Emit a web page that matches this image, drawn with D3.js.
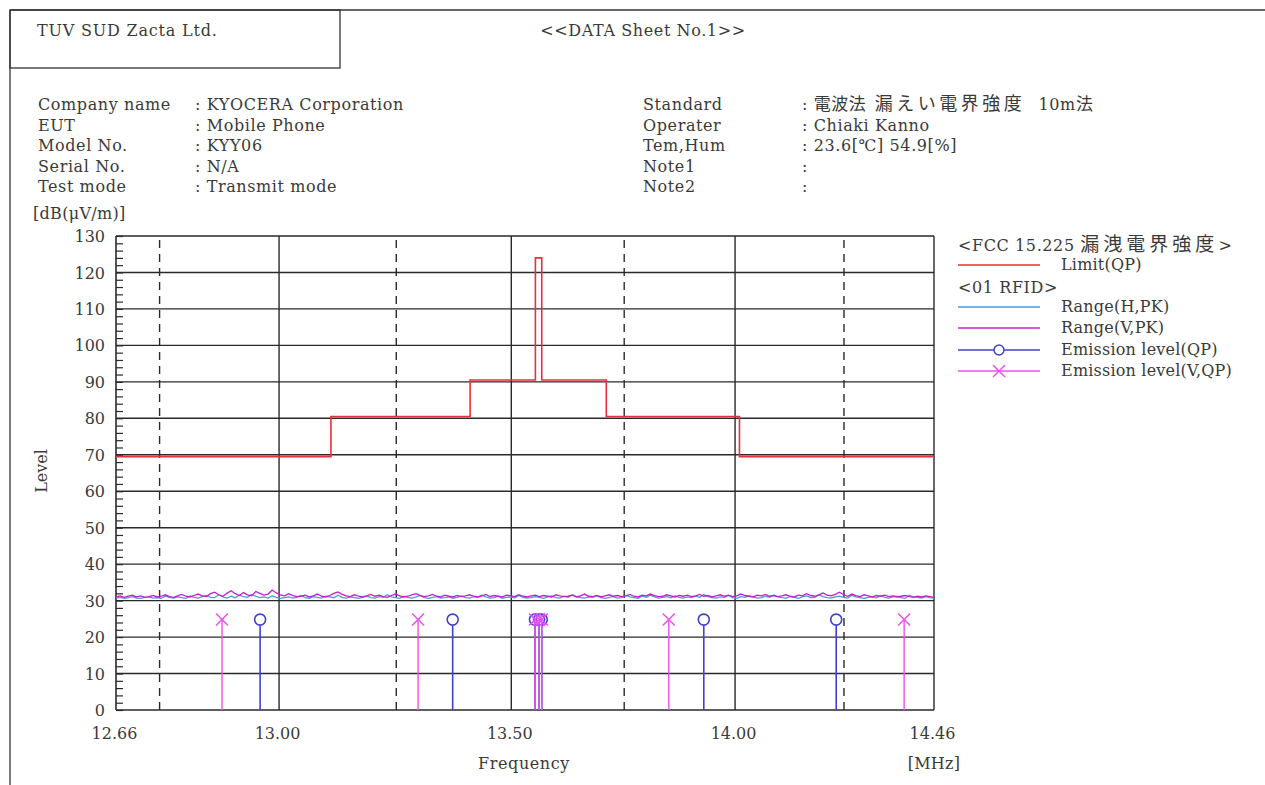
<!DOCTYPE html>
<html><head><meta charset="utf-8">
<script src="https://cdn.jsdelivr.net/npm/d3@7"></script>
<style>
body{margin:0;background:#fff;}
svg text{font-family:"DejaVu Serif","Liberation Serif","Noto Sans CJK JP",serif;fill:#3a3a3a;white-space:pre;}
.cjk{font-family:"Noto Sans CJK JP",sans-serif;}
</style></head>
<body><svg id="c" width="1265" height="785"></svg>
<script>
// ---------------- data ----------------
const xDomain = [12.66, 14.46];
const xLabelTicks = [12.66, 13.00, 13.50, 14.00, 14.46];
const xSolidGrid = [13.00, 13.50, 14.00];
const xDashedGrid = [12.75, 13.25, 13.75, 14.25];
const yTicks = [0,10,20,30,40,50,60,70,80,90,100,110,120,130];

// FCC 15.225 limit (QP) as step segments
const limitFreq =  [12.66, 13.110, 13.410, 13.553, 13.567, 13.710, 14.010, 14.46];
const limitLevel = [69.5, 80.5, 90.5, 124.0, 90.5, 80.5, 69.5];

// Range (H,PK) sweep values, 12.66..14.46 MHz
const rangeH = [
30.7,30.9,30.6,30.8,31.1,30.7,30.6,30.9,31.0,30.7,30.8,30.6,31.2,30.9,30.7,31.0,30.8,30.6,31.3,30.9,
30.7,31.1,31.4,30.9,30.8,31.6,31.0,30.7,31.2,30.8,31.5,31.1,30.9,31.7,31.2,30.8,31.0,30.7,31.3,30.9,
30.6,30.8,31.0,30.7,30.9,31.4,30.8,30.6,31.1,30.9,30.7,31.2,31.0,30.8,31.5,30.9,30.7,31.0,30.8,30.6,
30.9,31.3,30.8,30.7,31.1,30.9,31.6,31.0,30.8,30.6,31.2,30.9,30.7,31.0,31.4,30.8,30.6,30.9,31.1,30.7,
30.8,31.0,30.6,30.9,31.3,30.8,30.7,31.1,30.9,31.5,31.0,30.7,30.8,31.2,30.6,30.9,31.0,30.8,31.4,30.9,
30.7,30.8,31.1,30.9,30.6,31.0,31.3,30.8,30.7,31.2,30.9,31.6,31.1,30.8,30.7,31.0,30.9,31.3,30.8,30.6,
30.9,31.1,30.7,30.8,31.4,31.0,30.8,30.6,31.2,30.9,31.5,31.0,30.7,30.9,31.1,30.8,31.3,30.9,30.7,31.0,
30.8,31.2,30.9,31.7,31.1,30.8,30.7,31.0,30.9,31.4,30.8,30.6,31.1,30.9,31.3,31.0,30.7,30.8,31.2,30.9,
31.5,31.0,30.8,30.7,31.1,30.9,30.6,31.0,31.3,30.8,30.9,31.6,31.1,30.8,30.7,31.0,31.2,30.9,30.7,31.4,
31.0,30.8,30.6,30.9,31.1,30.8,31.3,30.9,30.7,31.0,31.2,30.8,30.6,31.5,31.0,30.9,30.7,31.1,30.8,30.7];
// Range (V,PK) sweep values
const rangeV = [
31.0,31.3,30.9,31.2,31.5,31.0,31.3,30.9,31.1,31.4,31.0,31.2,31.6,31.1,30.9,31.3,31.7,31.2,31.0,31.4,
31.8,31.3,31.1,31.9,32.3,31.6,31.2,32.0,32.7,31.9,31.4,32.2,31.6,31.3,32.5,32.0,31.5,31.8,32.9,32.1,
31.6,31.3,31.9,31.4,31.1,31.2,31.5,31.0,31.3,31.8,31.2,31.0,31.4,32.0,32.4,31.7,31.3,31.1,31.6,31.2,
31.0,31.3,31.7,31.2,31.5,31.1,30.9,31.4,31.8,31.3,31.0,31.2,31.6,31.9,31.4,31.1,31.3,31.7,31.2,31.0,
31.5,31.2,31.0,31.4,31.1,31.3,31.6,31.2,31.0,31.3,31.7,31.1,31.4,31.2,31.0,31.5,31.3,31.1,31.6,31.2,
31.0,31.3,31.5,31.1,31.4,31.2,31.0,31.6,31.3,31.1,31.2,31.5,31.0,31.3,31.8,31.2,31.1,31.4,31.0,31.3,
31.6,31.2,31.4,31.1,31.3,31.7,31.2,31.0,31.5,31.3,31.8,31.4,31.1,31.2,31.6,31.3,31.0,31.4,31.2,31.5,
31.1,31.3,31.7,31.2,31.4,31.0,31.3,31.6,31.2,31.5,31.1,31.3,31.8,31.4,31.2,31.0,31.5,31.3,31.7,31.2,
31.4,31.1,31.3,31.6,31.2,31.0,31.5,31.3,31.9,31.4,31.2,31.6,32.1,31.5,31.3,31.7,32.3,31.6,31.2,31.8,
31.4,31.1,31.6,31.3,31.0,31.4,31.2,31.5,31.1,31.3,31.0,31.2,31.4,31.1,30.9,31.2,31.0,31.3,31.1,30.9];

// Emission level (QP) - circles
const emiQPFreq  = [12.96, 13.372, 13.552, 13.561, 13.567, 13.929, 14.232];
const emiQPLevel = [24.8, 24.8, 24.8, 24.8, 24.8, 24.8, 24.8];
// Emission level (V,QP) - crosses
const emiVFreq  = [12.88, 13.297, 13.552, 13.561, 13.567, 13.85, 14.39];
const emiVLevel = [24.8, 24.8, 24.8, 24.8, 24.8, 24.8, 24.8];

const infoLeftLabels = ["Company name","EUT","Model No.","Serial No.","Test mode"];
const infoLeftValues = [": KYOCERA Corporation",": Mobile Phone",": KYY06",": N/A",": Transmit mode"];
const infoRightLabels = ["Standard","Operater","Tem,Hum","Note1","Note2"];
const infoRightValues = [": 23.6[℃] 54.9[%]"];

// ---------------- colours ----------------
const C_LIMIT = "#e8303c", C_H = "#4f9ad0", C_V = "#c020d0", C_QP = "#4040d0", C_VQP = "#ee50ee";

const svg = d3.select("#c");
const x = d3.scaleLog().domain(xDomain).range([116, 934]);
const y = d3.scaleLinear().domain([0,130]).range([710, 236]);
const FS = 16, LS = 0.6;
const txt = (px,py,t,opt={}) => svg.append("text").attr("x",px).attr("y",py).attr("font-size",opt.fs||FS)
  .attr("letter-spacing",opt.ls!==undefined?opt.ls:LS).attr("text-anchor",opt.anchor||"start").text(t);

// frame/header
svg.append("line").attr("x1",10).attr("x2",1265).attr("y1",10).attr("y2",10).attr("stroke","#333").attr("stroke-width",1.3);
svg.append("line").attr("x1",10).attr("x2",10).attr("y1",10).attr("y2",785).attr("stroke","#333").attr("stroke-width",1.3);
svg.append("rect").attr("x",10).attr("y",10).attr("width",330).attr("height",58).attr("fill","none").attr("stroke","#333").attr("stroke-width",1.3);
txt(37,36,"TUV SUD Zacta Ltd.",{ls:0.8});
txt(643,36,"<<DATA Sheet No.1>>",{anchor:"middle"});

const rowY = [110,131,151,172,192];
infoLeftLabels.forEach((t,i)=>{
  txt(38,rowY[i],t);
  txt(195,rowY[i],infoLeftValues[i]);
  txt(643,rowY[i],infoRightLabels[i]);
});
// right values
const sv = txt(802,rowY[0],": ");
sv.append("tspan").attr("class","cjk").attr("font-size",17).attr("letter-spacing",0.5).text("電波法  ");
sv.append("tspan").attr("class","cjk").attr("font-size",18).attr("letter-spacing",3.5).text("漏えい電界強度 ");
sv.append("tspan").attr("letter-spacing",0.6).text(" 10m");
sv.append("tspan").attr("class","cjk").attr("font-size",17).text("法");
txt(802,rowY[1],": Chiaki Kanno");
txt(802,rowY[2],infoRightValues[0]);
txt(802,rowY[3],":");
txt(802,rowY[4],":");
txt(33,219,"[dB(μV/m)]",{ls:0.3});

// grid
const g = svg.append("g");
g.selectAll(".hy").data(yTicks).join("line")
  .attr("x1",116).attr("x2",934).attr("y1",d=>y(d)).attr("y2",d=>y(d))
  .attr("stroke","#2a2a2a").attr("stroke-width",1.4);
g.selectAll(".vs").data(xSolidGrid).join("line")
  .attr("x1",d=>x(d)).attr("x2",d=>x(d)).attr("y1",y(0)).attr("y2",y(130))
  .attr("stroke","#2a2a2a").attr("stroke-width",1.4);
g.selectAll(".vd").data(xDashedGrid).join("line")
  .attr("x1",d=>x(d)).attr("x2",d=>x(d)).attr("y1",y(0)).attr("y2",y(130))
  .attr("stroke","#2a2a2a").attr("stroke-width",1.4).attr("stroke-dasharray","8,6");
g.append("line").attr("x1",116).attr("x2",116).attr("y1",y(0)).attr("y2",y(130)).attr("stroke","#2a2a2a").attr("stroke-width",1.6);
g.append("line").attr("x1",934).attr("x2",934).attr("y1",y(0)).attr("y2",y(130)).attr("stroke","#2a2a2a").attr("stroke-width",1.4);

// minor ticks on y axis (inside)
const minor = svg.append("g").attr("transform","translate(116,0)")
  .call(d3.axisRight(y).tickValues(d3.range(0,131,2)).tickSize(7).tickFormat(""));
minor.select(".domain").remove();
minor.selectAll("line").attr("stroke","#2a2a2a").attr("stroke-width",1.2);

// y labels
const yl = svg.append("g").attr("transform","translate(105,0)")
  .call(d3.axisLeft(y).tickValues(yTicks).tickSize(0).tickPadding(0));
yl.select(".domain").remove();
yl.selectAll("text").attr("font-size",16).attr("fill","#3a3a3a").attr("dy","0.35em")
  .style("font-family",'"DejaVu Serif","Liberation Serif",serif');

// x labels
const xl = svg.append("g").attr("transform","translate(0,728)")
  .call(d3.axisBottom(x).tickValues(xLabelTicks).tickSize(0).tickPadding(0).tickFormat(d3.format(".2f")));
xl.select(".domain").remove();
xl.selectAll("text").attr("font-size",16).attr("fill","#3a3a3a").attr("dy","0.71em").attr("dx",-2)
  .style("font-family",'"DejaVu Serif","Liberation Serif",serif');

txt(524,769,"Frequency",{anchor:"middle"});
txt(934,769,"[MHz]",{anchor:"middle",ls:0.3});
svg.append("text").attr("transform","translate(47,471) rotate(-90)").attr("font-size",16).attr("text-anchor","middle").text("Level");

// noise traces
const sweep = arr => arr.map((v,i)=>[Math.exp(Math.log(xDomain[0]) + (Math.log(xDomain[1])-Math.log(xDomain[0]))*i/(arr.length-1)), v]);
const line = d3.line().x(d=>x(d[0])).y(d=>y(d[1]));
svg.append("path").attr("d",line(sweep(rangeH))).attr("fill","none").attr("stroke",C_H).attr("stroke-width",1.3);
svg.append("path").attr("d",line(sweep(rangeV))).attr("fill","none").attr("stroke",C_V).attr("stroke-width",1.3);

// limit step line
const limPts = [];
limitLevel.forEach((lv,i)=>{ limPts.push([limitFreq[i],lv]); limPts.push([limitFreq[i+1],lv]); });
svg.append("path").attr("d",line(limPts)).attr("fill","none").attr("stroke",C_LIMIT).attr("stroke-width",1.6);

// emission stems & markers
const drawX = (gg,cx,cy,col)=>{
  gg.append("line").attr("x1",cx-6).attr("x2",cx+6).attr("y1",cy-6).attr("y2",cy+6).attr("stroke",col).attr("stroke-width",1.5);
  gg.append("line").attr("x1",cx-6).attr("x2",cx+6).attr("y1",cy+6).attr("y2",cy-6).attr("stroke",col).attr("stroke-width",1.5);
};
const em = svg.append("g");
emiQPFreq.forEach((f,i)=>{
  em.append("line").attr("x1",x(f)).attr("x2",x(f)).attr("y1",y(emiQPLevel[i])+6).attr("y2",y(0)).attr("stroke",C_QP).attr("stroke-width",1.6);
  em.append("circle").attr("cx",x(f)).attr("cy",y(emiQPLevel[i])).attr("r",5.5).attr("fill","none").attr("stroke",C_QP).attr("stroke-width",1.6);
});
emiVFreq.forEach((f,i)=>{
  em.append("line").attr("x1",x(f)).attr("x2",x(f)).attr("y1",y(emiVLevel[i])).attr("y2",y(0)).attr("stroke",C_VQP).attr("stroke-width",1.4);
  drawX(em,x(f),y(emiVLevel[i]),C_VQP);
});

// legend
const L = svg.append("g");
const lt = L.append("text").attr("x",958).attr("y",251).attr("font-size",16).attr("letter-spacing",0.6).text("<FCC 15.225 ");
lt.append("tspan").attr("class","cjk").attr("font-size",19).attr("letter-spacing",4).text("漏洩電界強度");
lt.append("tspan").text(">");
L.append("text").attr("x",958).attr("y",293).attr("font-size",16).attr("letter-spacing",0.6).text("<01 RFID>");
const leg = [
  {y:265, col:C_LIMIT, label:"Limit(QP)", m:null},
  {y:307, col:C_H, label:"Range(H,PK)", m:null},
  {y:328, col:C_V, label:"Range(V,PK)", m:null},
  {y:350, col:C_QP, label:"Emission level(QP)", m:"o"},
  {y:371, col:C_VQP, label:"Emission level(V,QP)", m:"x"}
];
leg.forEach(d=>{
  L.append("line").attr("x1",958).attr("x2",1040).attr("y1",d.y).attr("y2",d.y).attr("stroke",d.col).attr("stroke-width",1.5);
  if(d.m==="o") L.append("circle").attr("cx",999).attr("cy",d.y).attr("r",5).attr("fill","#fff").attr("stroke",d.col).attr("stroke-width",1.5);
  if(d.m==="x") drawX(L,999,d.y,d.col);
  L.append("text").attr("x",1061).attr("y",d.y+5).attr("font-size",16).attr("letter-spacing",0.2).text(d.label);
});
</script></body></html>
